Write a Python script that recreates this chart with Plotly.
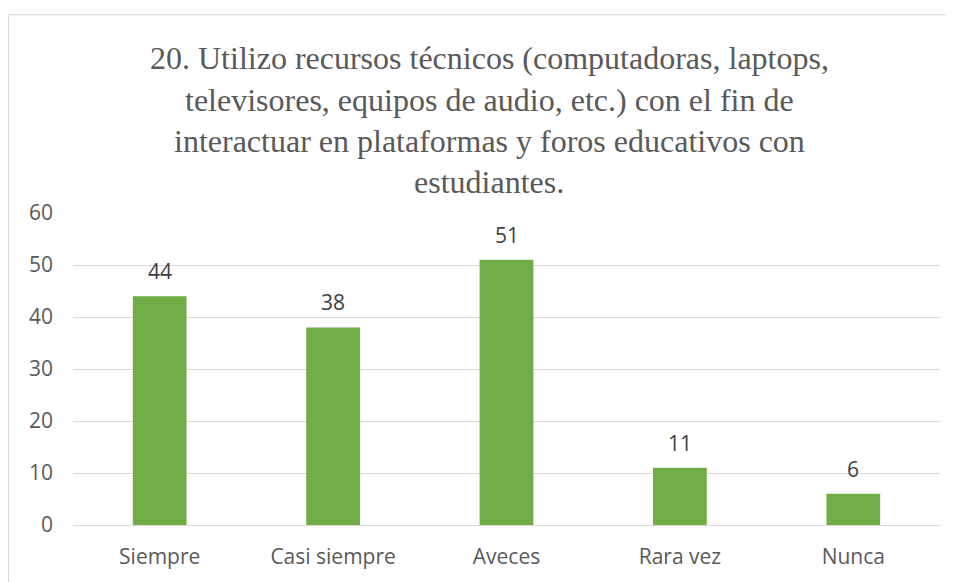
import plotly.graph_objects as go

categories = ["Siempre", "Casi siempre", "Aveces", "Rara vez", "Nunca"]
values = [44, 38, 51, 11, 6]
title_lines = [
    "20. Utilizo recursos técnicos (computadoras, laptops,",
    "televisores, equipos de audio, etc.) con el fin de",
    "interactuar en plataformas y foros educativos con",
    "estudiantes.",
]

# page has an 8px body margin, so the figure is drawn 8px in from the window edge
OFF = 8
W, H = 954 - OFF, 582 - OFF
ml, mr, mt, mb = 65, 14, 205, 55
pw, ph = W - ml - mr, H - mt - mb


def px_x(x):
    return (x - OFF - ml) / pw


def px_y(y):
    return (H - mb - (y - OFF)) / ph


sans = dict(family="Open Sans", size=21, color="#595959")

fig = go.Figure(
    go.Bar(
        x=categories,
        y=values,
        marker=dict(color="#70AD47", line=dict(width=0)),
        width=0.31,
        cliponaxis=False,
    )
)

# data labels above bars
for cat, val in zip(categories, values):
    fig.add_annotation(
        x=cat,
        y=val,
        text=str(val),
        showarrow=False,
        yanchor="bottom",
        yshift=9,
        font=dict(family="Open Sans", size=21, color="#404040"),
    )

title_y = [57, 99, 141, 182]
for line, y in zip(title_lines, title_y):
    fig.add_annotation(
        text=line,
        x=px_x(489),
        y=px_y(y),
        xref="paper",
        yref="paper",
        showarrow=False,
        xanchor="center",
        yanchor="middle",
        font=dict(family="Liberation Serif, Times New Roman, serif", size=32, color="#595959"),
    )

# chart border
fig.add_shape(
    type="rect",
    xref="paper",
    yref="paper",
    x0=px_x(8.5),
    x1=px_x(1000),
    y0=px_y(700),
    y1=px_y(13.5),
    line=dict(color="#D9D9D9", width=1),
    fillcolor="rgba(0,0,0,0)",
    layer="below",
)

fig.update_yaxes(
    range=[0, 60],
    dtick=10,
    showgrid=True,
    gridcolor="#D9D9D9",
    gridwidth=1,
    zeroline=True,
    zerolinecolor="#D9D9D9",
    zerolinewidth=1,
    showline=False,
    ticklabelstandoff=19,
    tickfont=sans,
)
fig.update_xaxes(
    showgrid=False,
    showline=False,
    ticklabelstandoff=17,
    tickfont=sans,
)

fig.update_layout(
    width=W,
    height=H,
    margin=dict(l=ml, r=mr, t=mt, b=mb),
    plot_bgcolor="white",
    paper_bgcolor="white",
    showlegend=False,
)

fig.write_html("out.html")
